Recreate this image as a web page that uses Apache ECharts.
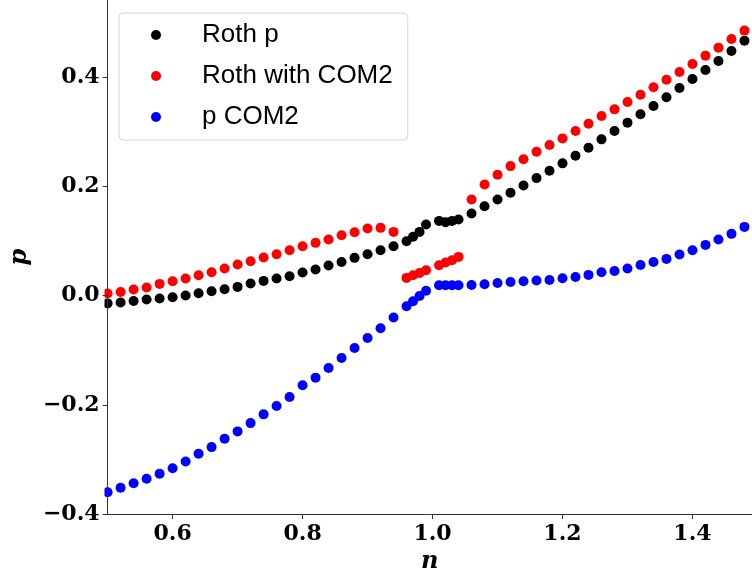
<!DOCTYPE html>
<html>
<head>
<meta charset="utf-8">
<script src="https://cdn.jsdelivr.net/npm/echarts@6/dist/echarts.min.js"></script>
<style>
html,body{margin:0;padding:0;background:#fff;}
#chart{width:752px;height:579px;}
</style>
</head>
<body>
<div id="chart"></div>
<script>
// n values (x axis)
const nValues = [
  0.50,0.52,0.54,0.56,0.58,0.60,0.62,0.64,0.66,0.68,0.70,0.72,0.74,0.76,0.78,0.80,0.82,0.84,0.86,0.88,0.90,0.92,0.94,
  0.96,0.97,0.98,0.99,1.01,1.02,1.03,1.04,
  1.06,1.08,1.10,1.12,1.14,1.16,1.18,1.20,1.22,1.24,1.26,1.28,1.30,1.32,1.34,1.36,1.38,1.40,1.42,1.44,1.46,1.48
];
// Roth p
const rothP = [
  -0.0140,-0.0125,-0.0095,-0.0070,-0.0050,-0.0028,0.0004,0.0046,0.0083,0.0119,0.0162,0.0224,0.0272,0.0316,0.0358,0.0426,0.0481,0.0554,0.0620,0.0694,0.0761,0.0835,0.0908,
  0.1000,0.1080,0.1170,0.1306,0.1372,0.1349,0.1372,0.1398,
  0.1508,0.1640,0.1765,0.1886,0.2022,0.2156,0.2290,0.2426,0.2565,0.2712,0.2866,0.3018,0.3171,0.3325,0.3477,0.3637,0.3807,0.3972,0.4138,0.4303,0.4486,0.4675
];
// Roth with COM2
const rothCOM2 = [
  0.0040,0.0070,0.0114,0.0150,0.0217,0.0266,0.0316,0.0376,0.0431,0.0499,0.0572,0.0633,0.0701,0.0761,0.0835,0.0908,0.0969,0.1031,0.1110,0.1165,0.1233,0.1244,0.1170,
  0.0327,0.0376,0.0418,0.0468,0.0560,0.0609,0.0651,0.0712,
  0.1765,0.2040,0.2217,0.2376,0.2500,0.2639,0.2761,0.2884,0.3018,0.3152,0.3294,0.3416,0.3550,0.3684,0.3820,0.3960,0.4100,0.4248,0.4400,0.4547,0.4706,0.4859
];
// p COM2
const pCOM2 = [
  -0.3600,-0.3520,-0.3435,-0.3354,-0.3262,-0.3160,-0.3037,-0.2895,-0.2774,-0.2620,-0.2486,-0.2334,-0.2174,-0.2022,-0.1857,-0.1642,-0.1501,-0.1325,-0.1141,-0.0958,-0.0774,-0.0595,-0.0400,
  -0.0193,-0.0100,-0.0005,0.0090,0.0193,0.0193,0.0193,0.0193,
  0.0196,0.0211,0.0235,0.0253,0.0266,0.0279,0.0290,0.0321,0.0345,0.0382,0.0431,0.0455,0.0499,0.0565,0.0620,0.0675,0.0756,0.0835,0.0932,0.1031,0.1134,0.1262
];
const xTicks = [0.6, 0.8, 1.0, 1.2, 1.4];
const yTicks = [-0.4, -0.2, 0.0, 0.2, 0.4];
const seriesNames = ['Roth p', 'Roth with COM2', 'p COM2'];
const seriesColors = ['#000000', '#ff0000', '#0000ff'];

function pairs(ys) { return nValues.map((x, i) => [x, ys[i]]); }
const allY = [rothP, rothCOM2, pCOM2];

const fmt = v => (v < 0 ? '\u2212' + (-v).toFixed(1) : v.toFixed(1));
const tickFont = { fontFamily: 'DejaVu Serif', fontWeight: 'bold', fontSize: 22, color: '#000' };

const chart = echarts.init(document.getElementById('chart'), null, { renderer: 'canvas' });
chart.setOption({
  animation: false,
  backgroundColor: '#ffffff',
  grid: { left: 105, right: 0, top: 0, bottom: 65 },
  xAxis: {
    type: 'value', min: 0.5, max: 1.4916, z: 10,
    name: 'n', nameLocation: 'middle', nameGap: 30,
    nameTextStyle: { fontFamily: 'DejaVu Serif', fontWeight: 'bold', fontStyle: 'italic', fontSize: 24, color: '#000' },
    axisLine: { show: true, onZero: false, lineStyle: { color: '#333', width: 1 } },
    axisTick: { show: true, length: 5, customValues: xTicks, lineStyle: { color: '#333' } },
    axisLabel: Object.assign({ margin: 9, customValues: xTicks, formatter: fmt }, tickFont),
    splitLine: { show: false }
  },
  yAxis: {
    type: 'value', min: -0.4, max: 0.542, z: 10,
    name: 'p', nameLocation: 'middle', nameGap: 70,
    nameTextStyle: { fontFamily: 'DejaVu Serif', fontWeight: 'bold', fontStyle: 'italic', fontSize: 24, color: '#000' },
    axisLine: { show: true, onZero: false, lineStyle: { color: '#333', width: 1 } },
    axisTick: { show: true, length: 5, customValues: yTicks, lineStyle: { color: '#333' } },
    axisLabel: Object.assign({ margin: 8, customValues: yTicks, formatter: fmt }, tickFont),
    splitLine: { show: false }
  },
  legend: {
    orient: 'vertical', left: 119, top: 13,
    padding: [7, 15, 8, 32],
    itemGap: 11, itemWidth: 10, itemHeight: 10, icon: 'circle',
    backgroundColor: '#ffffff', borderColor: '#d6d6d6', borderWidth: 1, borderRadius: 4,
    selectedMode: false,
    itemStyle: { opacity: 1 },
    textStyle: { fontFamily: 'Liberation Sans', fontSize: 26, color: '#000', lineHeight: 30, padding: [0, 0, 0, 36] },
    data: seriesNames
  },
  graphic: [{
    type: 'rect', z: 5, silent: true,
    shape: { x: 88, y: 0, width: 16.5, height: 514 },
    style: { fill: '#ffffff' }
  }],
  series: seriesNames.map((name, k) => ({
    name: name, type: 'scatter', symbol: 'circle', symbolSize: 10, z: 2 + k,
    itemStyle: { color: seriesColors[k], opacity: 1 },
    data: pairs(allY[k])
  }))
});
</script>
</body>
</html>
